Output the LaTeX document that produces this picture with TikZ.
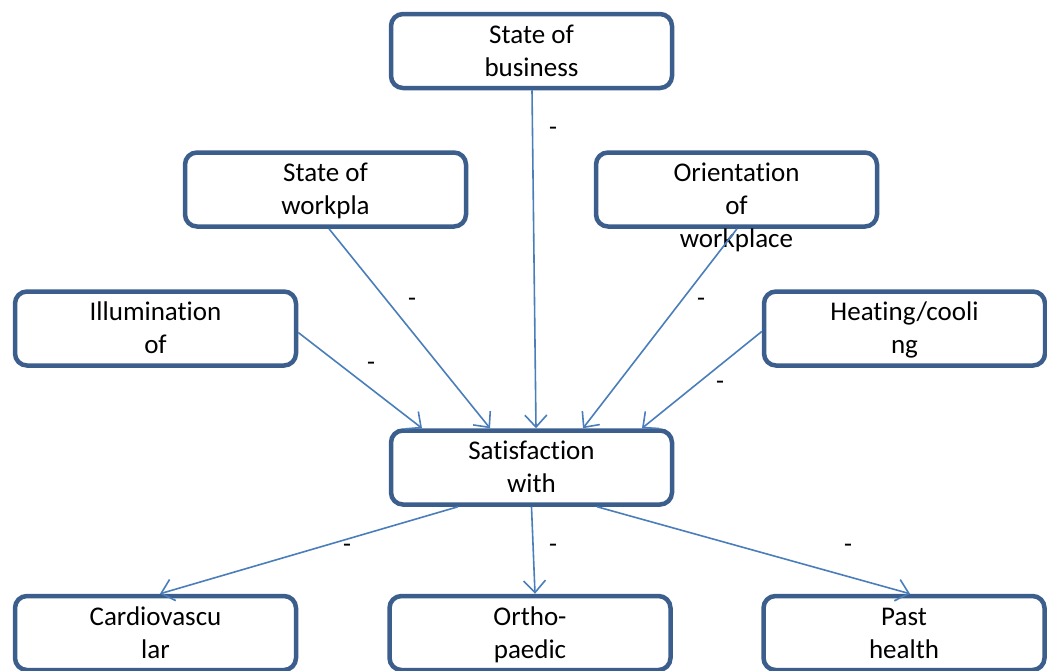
\documentclass[tikz,border=0pt]{standalone}
\usepackage{fontspec}
\setmainfont{Carlito}[Ligatures={NoCommon}]
\usetikzlibrary{arrows.meta}
\definecolor{boxblue}{HTML}{3B5E8C}
\definecolor{arrowblue}{HTML}{4A7EBB}
\tikzset{
  factor/.style={draw=boxblue, line width=4.5pt, rounded corners=12pt, fill=white,
    minimum width=281pt, minimum height=74pt, inner sep=0pt, align=center,
    text height=62pt, text depth=12pt, font=\fontsize{27}{33}\selectfont},
  sign/.style={inner sep=0pt, font=\fontsize{26}{33}\selectfont},
  link/.style={arrowblue, line width=1.6pt, -{Straight Barb[length=12pt,width=22pt,line width=1.6pt]}}
}
\begin{document}
\begin{tikzpicture}[x=1pt, y=-1pt]
            \useasboundingbox (0,0) rectangle (1047,670);
            \node[factor] (bus) at (531.5,51) {State of\\business};
            \node[factor] (wpl) at (325.5,189.5) {State of\\workpla};
            \node[factor, fill=none] (ori) at (736.5,189.5) {};
            \node[factor, text height=95pt, minimum height=107pt, draw=none, fill=none] (oritxt) at (736.5,206) {Orientation\\of\\workplace};
            \node[factor] (ill) at (155.5,328.5) {Illumination\\of};
            \node[factor] (heat) at (904.5,328.5) {Heating/cooli\\ng};
            \node[factor] (sat) at (531.5,467.5) {Satisfaction\\with};
            \node[factor] (card) at (155.5,633) {Cardiovascu\\lar};
            \node[factor] (orth) at (530,633) {Ortho-\\paedic};
            \node[factor] (past) at (904,633) {Past\\health};
            \draw[link] ([xshift=0.5pt]bus.south) -- ([xshift=4.5pt]sat.north);
            \draw[link] ([xshift=3.5pt]wpl.south) -- ([xshift=-41.5pt]sat.north);
            \draw[link] ([yshift=-4pt]ill.east) -- ([xshift=-109.5pt]sat.north);
            \draw[link] ([xshift=0.5pt]ori.south) -- ([xshift=51.5pt]sat.north);
            \draw[link] ([yshift=-3pt]heat.west) -- ([xshift=110.5pt]sat.north);
            \draw[link] ([xshift=-73.5pt]sat.south) -- ([xshift=4.5pt]card.north);
            \draw[link] (sat.south) -- ([xshift=5pt]orth.north);
            \draw[link] ([xshift=65.5pt]sat.south) -- ([xshift=6pt]past.north);
            \node[sign] (m1) at (553,131) {-};
            \node[sign] (m2) at (412,302) {-};
            \node[sign] (m3) at (371,366) {-};
            \node[sign] (m4) at (701,302) {-};
            \node[sign] (m5) at (720,385) {-};
            \node[sign] (m6) at (347,548) {-};
            \node[sign] (m7) at (553,548) {-};
            \node[sign] (m8) at (848,548) {-};
        \end{tikzpicture}
\end{document}
